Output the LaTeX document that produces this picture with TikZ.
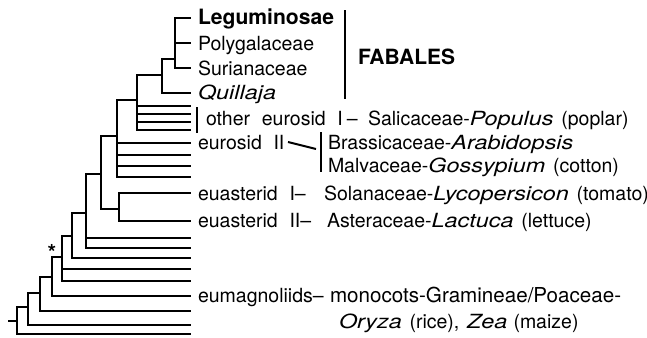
\documentclass[tikz,border=0pt]{standalone}
\usepackage{fontspec}
\setmainfont{TeX Gyre Heros}[ItalicFeatures={FakeStretch=1.2}]
\usetikzlibrary{positioning}

\begin{document}
\begin{tikzpicture}[x=0.5pt, y=-0.5pt, line width=1pt,
  lbl/.style={anchor=base west, inner sep=0pt,
    font=\fontsize{9.75}{12}\selectfont,
    execute at begin node={\spaceskip=0.6em\relax}},
  lblr/.style={lbl, execute at begin node={\spaceskip=0.4em\relax}},
  lblb/.style={lbl, font=\fontsize{10.5}{12}\selectfont\bfseries}]
  \useasboundingbox (0,0) rectangle (647,337);

  % internal nodes of the tree
  \coordinate (root) at (17,321);
  \coordinate (nh) at (28,307);
  \coordinate (ng) at (40,293);
  \coordinate (nf) at (52,277);
  \coordinate (ne) at (62,257);
  \coordinate (nd) at (72,236);
  \coordinate (nc) at (86,213);
  \coordinate (nb) at (101,174);
  \coordinate (na) at (117,136);
  \coordinate (nast) at (119,209);
  \coordinate (nros) at (137,100);
  \coordinate (nfab) at (162,75);
  \coordinate (nleg) at (175,59);
  \coordinate (rtick) at (8,321);

  % tips
  \foreach \nm/\yy in {tLeg/18, tPol/43, tSur/68, tQui/93,
      tOa/106, tOb/114, tOc/122, tOd/130,
      tRa/143, tRb/155, tRc/166, tRd/177,
      tAa/193, tAb/221, tCa/238, tCb/248, tDa/258,
      tEa/269, tEb/281, tMag/296, tGa/311, tHa/325, tRoot/334}
    \coordinate (\nm) at (191,\yy);

  % branches
  \draw (rtick) -- (root);
  \foreach \p/\c in {root/nh, root/tRoot, nh/ng, nh/tHa, ng/nf, ng/tGa,
      nf/ne, nf/tMag, ne/nd, ne/tEa, ne/tEb, nd/nc, nd/tDa,
      nc/nb, nc/tCa, nc/tCb, nb/na, nb/nast, nast/tAa, nast/tAb,
      na/nros, na/tRa, na/tRb, na/tRc, na/tRd,
      nros/nfab, nros/tOa, nros/tOb, nros/tOc, nros/tOd,
      nfab/nleg, nfab/tQui, nleg/tLeg, nleg/tPol, nleg/tSur}
    \draw (\p) |- (\c);

  \node[anchor=base, inner sep=0pt, font=\fontsize{11}{12}\selectfont\bfseries] (star) at (52,260) {*};

  % labels
  \node[lblb, font=\fontsize{10.55}{12}\selectfont\bfseries] (leg) at (197,25) {Leguminosae};
  \node[lbl] (pol) at (197,50) {Polygalaceae};
  \node[lbl] (sur) at (197,75) {Surianaceae};
  \node[lbl] (qui) at (197,99) {\itshape Quillaja};
  \node[lblb] (fab) at (357,64) {FABALES};
  \coordinate (fabtop) at (345,10);
  \coordinate (fabbot) at (345,99);
  \draw (fabtop) -- (fabbot);

  \coordinate (ostop) at (197,107);
  \coordinate (osbot) at (197,133);
  \draw (ostop) -- (osbot);
  \node[lbl] (oros) at (205,125) {other eurosid I\kern2pt--};
  \node[lblr] (sal) at (367,125) {Salicaceae-\textit{Populus} (poplar)};

  \node[lbl] (ros) at (197,149) {eurosid II};
  \coordinate (rosa) at (288,142);
  \coordinate (rosb) at (316,149);
  \draw (rosa) -- (rosb);
  \coordinate (brtop) at (321,132);
  \coordinate (brbot) at (321,172);
  \draw (brtop) -- (brbot);
  \node[lblr] (bra) at (327,149) {Brassicaceae-\textit{Arabidopsis}};
  \node[lblr] (mal) at (327,172) {Malvaceae-\textit{Gossypium} (cotton)};

  \node[lbl] (asa) at (197,200) {euasterid I--};
  \node[lblr] (sol) at (323,200) {Solanaceae-\textit{Lycopersicon} (tomato)};
  \node[lbl] (asb) at (197,227) {euasterid II--};
  \node[lblr] (ast) at (326,227) {Asteraceae-\textit{Lactuca} (lettuce)};

  \node[lbl] (mag) at (197,302) {eumagnoliids--};
  \node[lblr, font=\fontsize{10.3}{12}\selectfont] (mon) at (329,302) {monocots-Gramineae/Poaceae-};
  \node[lblr] (ory) at (338,328) {\textit{Oryza} (rice), \textit{Zea}\kern3pt (maize)};
\end{tikzpicture}
\end{document}
